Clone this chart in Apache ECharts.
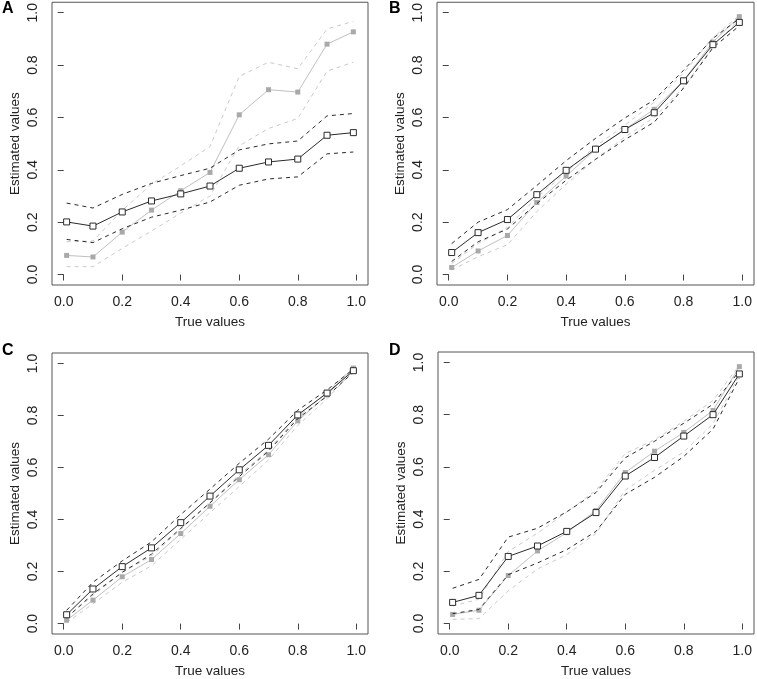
<!DOCTYPE html>
<html>
<head>
<meta charset="utf-8">
<script src="https://cdn.jsdelivr.net/npm/echarts@6/dist/echarts.min.js"></script>
<style>
  html, body { margin: 0; padding: 0; background: #fff; }
  #chart { width: 757px; height: 679px; }
</style>
</head>
<body>
<div id="chart"></div>
<script>
// true values on the x axis (same for every panel)
const trueValues = [0.01, 0.1, 0.2, 0.3, 0.4, 0.5, 0.6, 0.7, 0.8, 0.9, 0.99]
const tickValues = [0, 0.2, 0.4, 0.6, 0.8, 1.0]
const panelLabels = ['A', 'B', 'C', 'D']

// panel A
const aBlackMid = [0.201, 0.185, 0.239, 0.281, 0.308, 0.338, 0.406, 0.430, 0.441, 0.532, 0.542]
const aBlackUp  = [0.273, 0.254, 0.306, 0.348, 0.378, 0.406, 0.476, 0.499, 0.510, 0.606, 0.615]
const aBlackLo  = [0.134, 0.122, 0.175, 0.219, 0.246, 0.277, 0.341, 0.365, 0.373, 0.461, 0.468]
const aGrayMid  = [0.073, 0.067, 0.162, 0.246, 0.320, 0.390, 0.610, 0.706, 0.697, 0.880, 0.927]
const aGrayUp   = [0.125, 0.128, 0.245, 0.345, 0.415, 0.489, 0.757, 0.811, 0.786, 0.938, 0.967]
const aGrayLo   = [0.030, 0.030, 0.100, 0.166, 0.235, 0.300, 0.492, 0.558, 0.596, 0.777, 0.811]

// panel B
const bBlackMid = [0.084, 0.160, 0.210, 0.305, 0.398, 0.479, 0.554, 0.618, 0.740, 0.878, 0.963]
const bBlackUp  = [0.118, 0.200, 0.248, 0.340, 0.435, 0.520, 0.598, 0.667, 0.780, 0.902, 0.978]
const bBlackLo  = [0.050, 0.125, 0.174, 0.271, 0.360, 0.440, 0.515, 0.582, 0.712, 0.866, 0.950]
const bGrayMid  = [0.027, 0.090, 0.149, 0.275, 0.376, 0.478, 0.555, 0.631, 0.741, 0.888, 0.985]
const bGrayUp   = [0.042, 0.118, 0.180, 0.295, 0.390, 0.490, 0.570, 0.658, 0.770, 0.905, 0.990]
const bGrayLo   = [0.017, 0.068, 0.114, 0.240, 0.345, 0.440, 0.525, 0.600, 0.715, 0.870, 0.975]

// panel C
const cBlackMid = [0.034, 0.133, 0.219, 0.291, 0.388, 0.490, 0.591, 0.685, 0.802, 0.886, 0.972]
const cBlackUp  = [0.051, 0.159, 0.241, 0.314, 0.419, 0.517, 0.616, 0.709, 0.820, 0.898, 0.978]
const cBlackLo  = [0.022, 0.114, 0.197, 0.267, 0.366, 0.464, 0.565, 0.663, 0.788, 0.874, 0.966]
const cGrayMid  = [0.013, 0.090, 0.180, 0.246, 0.346, 0.451, 0.553, 0.649, 0.779, 0.879, 0.982]
const cGrayUp   = [0.025, 0.108, 0.197, 0.260, 0.362, 0.466, 0.572, 0.667, 0.794, 0.889, 0.985]
const cGrayLo   = [0.004, 0.076, 0.159, 0.222, 0.324, 0.426, 0.527, 0.629, 0.762, 0.864, 0.972]

// panel D
const dBlackMid = [0.081, 0.108, 0.257, 0.297, 0.353, 0.425, 0.565, 0.636, 0.718, 0.800, 0.956]
const dBlackUp  = [0.135, 0.169, 0.331, 0.365, 0.428, 0.502, 0.635, 0.698, 0.767, 0.840, 0.967]
const dBlackLo  = [0.038, 0.054, 0.187, 0.232, 0.283, 0.353, 0.495, 0.560, 0.640, 0.745, 0.940]
const dGrayMid  = [0.035, 0.051, 0.184, 0.278, 0.348, 0.433, 0.578, 0.660, 0.732, 0.816, 0.984]
const dGrayUp   = [0.067, 0.093, 0.276, 0.346, 0.427, 0.510, 0.651, 0.704, 0.775, 0.854, 0.990]
const dGrayLo   = [0.016, 0.019, 0.125, 0.209, 0.264, 0.345, 0.511, 0.587, 0.657, 0.765, 0.950]

const panels = [
  { mid: aBlackMid, up: aBlackUp, lo: aBlackLo, gMid: aGrayMid, gUp: aGrayUp, gLo: aGrayLo },
  { mid: bBlackMid, up: bBlackUp, lo: bBlackLo, gMid: bGrayMid, gUp: bGrayUp, gLo: bGrayLo },
  { mid: cBlackMid, up: cBlackUp, lo: cBlackLo, gMid: cGrayMid, gUp: cGrayUp, gLo: cGrayLo },
  { mid: dBlackMid, up: dBlackUp, lo: dBlackLo, gMid: dGrayMid, gUp: dGrayUp, gLo: dGrayLo }
]

// grid boxes in pixels
const boxes = [
  { left: 52, top: 2, width: 316, height: 283 },
  { left: 437, top: 1, width: 317, height: 284 },
  { left: 52, top: 353, width: 316, height: 282 },
  { left: 438, top: 352, width: 316, height: 283 }
]
const letterPos = [[2, 1], [389, 1], [2, 343], [389, 343]]

const FONT = '"Liberation Sans", Arial, Helvetica, sans-serif'
const BLACK = '#2a2a2a'
const GRAY_PT = '#a9a9a9'
const GRAY_LN = '#c0c0c0'
const GRAY_DASH = '#cacaca'

const pairs = ys => trueValues.map((x, i) => [x, ys[i]])

const chart = echarts.init(document.getElementById('chart'))

const grid = boxes.map(b => ({
  left: b.left, top: b.top, width: b.width, height: b.height,
  show: true, borderColor: '#555', borderWidth: 1, backgroundColor: 'transparent'
}))

const xAxis = boxes.map((b, i) => ({
  type: 'value', gridIndex: i, min: -0.04, max: 1.04,
  name: 'True values', nameLocation: 'middle', nameGap: 30,
  nameTextStyle: { fontFamily: FONT, fontSize: 13.5, color: '#222' },
  axisLine: { show: false },
  splitLine: { show: false },
  axisTick: { show: true, inside: false, length: 6, customValues: tickValues, lineStyle: { color: '#444' } },
  axisLabel: {
    customValues: tickValues, margin: 10, fontFamily: FONT, fontSize: 14, color: '#222',
    formatter: v => v.toFixed(1)
  }
}))

const yAxis = boxes.map((b, i) => ({
  type: 'value', gridIndex: i, min: -0.04, max: 1.04,
  name: 'Estimated values', nameLocation: 'middle', nameGap: 30, nameRotate: 90,
  nameTextStyle: { fontFamily: FONT, fontSize: 13.5, color: '#222' },
  axisLine: { show: false },
  splitLine: { show: false },
  axisTick: { show: true, inside: false, length: 6, customValues: tickValues, lineStyle: { color: '#444' } },
  axisLabel: {
    customValues: tickValues, margin: 12, rotate: 90, fontFamily: FONT, fontSize: 14, color: '#222',
    formatter: v => v.toFixed(1)
  }
}))

const series = []
panels.forEach((p, i) => {
  const base = { type: 'line', xAxisIndex: i, yAxisIndex: i, silent: true, z: 2 }
  // gray group
  series.push({ ...base, data: pairs(p.gUp), symbol: 'none',
    lineStyle: { color: GRAY_DASH, width: 1, type: [4, 4] } })
  series.push({ ...base, data: pairs(p.gLo), symbol: 'none',
    lineStyle: { color: GRAY_DASH, width: 1, type: [4, 4] } })
  series.push({ ...base, data: pairs(p.gMid), symbol: 'rect', symbolSize: 5,
    lineStyle: { color: GRAY_LN, width: 1 }, itemStyle: { color: GRAY_PT, borderWidth: 0 } })
  // black group
  series.push({ ...base, z: 3, data: pairs(p.up), symbol: 'none',
    lineStyle: { color: BLACK, width: 1, type: [4, 4] } })
  series.push({ ...base, z: 3, data: pairs(p.lo), symbol: 'none',
    lineStyle: { color: BLACK, width: 1, type: [4, 4] } })
  series.push({ ...base, z: 4, data: pairs(p.mid), symbol: 'rect', symbolSize: 6,
    lineStyle: { color: BLACK, width: 1 },
    itemStyle: { color: '#fff', borderColor: BLACK, borderWidth: 1 } })
})

const graphic = panelLabels.map((t, i) => ({
  type: 'text', left: letterPos[i][0], top: letterPos[i][1],
  style: { text: t, fontFamily: FONT, fontWeight: 'bold', fontSize: 16, fill: '#000' }
}))

chart.setOption({
  animation: false,
  backgroundColor: '#fff',
  grid, xAxis, yAxis, series, graphic
})
</script>
</body>
</html>
